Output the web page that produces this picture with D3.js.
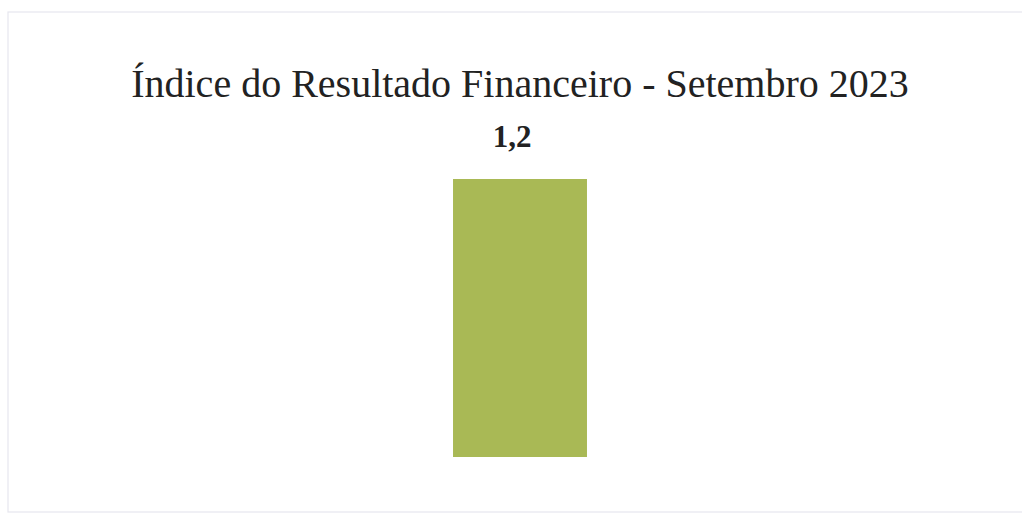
<!DOCTYPE html>
<html><head><meta charset="utf-8">
<script src="https://cdn.jsdelivr.net/npm/d3@7"></script>
<style>html,body{margin:0;padding:0;background:#fff;}svg{display:block;}</style>
</head><body>
<script>
const title = "Índice do Resultado Financeiro - Setembro 2023";
const categories = ["Setembro 2023"];
const values = [1.2];
const valueLabels = ["1,2"];

const W = 1022, H = 517;
const svg = d3.select("body").append("svg").attr("width", W).attr("height", H);

svg.append("rect").attr("x", 8).attr("y", 12).attr("width", 1020).attr("height", 500)
  .attr("fill", "none").attr("stroke", "#e6e6ee").attr("stroke-width", 1.2);

const x = d3.scaleBand().domain(categories).range([30, 1010]).paddingInner(0.7595).paddingOuter(0.7595);
const y = d3.scaleLinear().domain([0, 1.2]).range([457, 179]);

svg.append("text").attr("x", 520).attr("y", 97).attr("text-anchor", "middle")
  .attr("font-family", "Liberation Serif, Times New Roman, serif").attr("font-size", 40)
  .attr("fill", "#222").text(title);

svg.selectAll("rect.bar").data(values).join("rect").attr("class", "bar")
  .attr("x", (d, i) => x(categories[i])).attr("width", x.bandwidth())
  .attr("y", d => y(d)).attr("height", d => y(0) - y(d))
  .attr("fill", "#a9b955");

svg.selectAll("text.lbl").data(values).join("text").attr("class", "lbl")
  .attr("x", (d, i) => x(categories[i]) + x.bandwidth() / 2 - 8)
  .attr("y", d => y(d) - 32).attr("text-anchor", "middle")
  .attr("font-family", "Liberation Serif, Times New Roman, serif").attr("font-weight", "bold")
  .attr("font-size", 31).attr("fill", "#222").text((d, i) => valueLabels[i]);
</script>
</body></html>
